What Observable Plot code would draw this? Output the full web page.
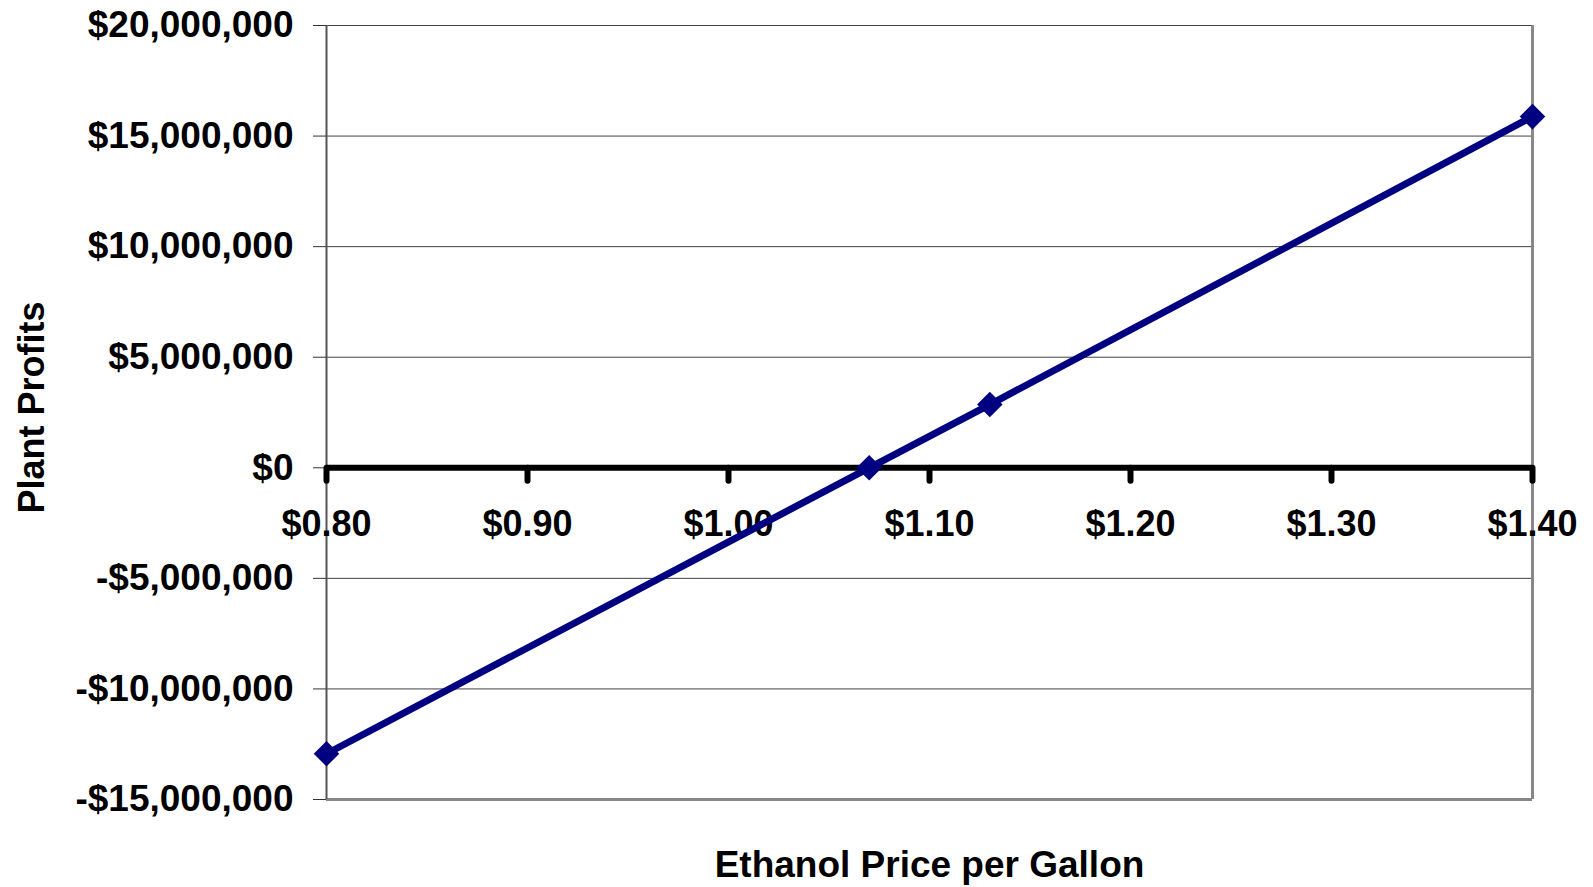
<!DOCTYPE html>
<html>
<head>
<meta charset="utf-8">
<script src="https://cdn.jsdelivr.net/npm/d3@7"></script>
<script src="https://cdn.jsdelivr.net/npm/@observablehq/plot@0.6"></script>
<style>
  html, body { margin: 0; padding: 0; background: #fff; }
  #chart svg { display: block; }
</style>
</head>
<body>
<div id="chart"></div>
<script>
// Data
const prices = [0.80, 1.07, 1.13, 1.40];
const profits = [-12930000, 0, 2860000, 15880000];
const yTicks = [-15000000, -10000000, -5000000, 0, 5000000, 10000000, 15000000, 20000000];
const xTicks = [0.80, 0.90, 1.00, 1.10, 1.20, 1.30, 1.40];
const xTitle = "Ethanol Price per Gallon";
const yTitle = "Plant Profits";

const data = prices.map((p, i) => ({price: p, profit: profits[i]}));

const fmtY = v => (v < 0 ? "-$" : "$") + d3.format(",")(Math.abs(v));
const fmtX = v => "$" + v.toFixed(2);
const FONT = "'Liberation Sans', Arial, sans-serif";
const FS = 36;

const tickShape = {
  draw(context, l) {
    context.moveTo(0, 0);
    context.lineTo(0, -l);
  }
};

const chart = Plot.plot({
  width: 1593,
  height: 887,
  marginLeft: 326,
  marginRight: 61,
  marginTop: 25,
  marginBottom: 88,
  style: {fontFamily: FONT, background: "#fff"},
  x: {domain: [0.8, 1.4], axis: null},
  y: {domain: [-15000000, 20000000]},
  marks: [
    // horizontal grid lines
    Plot.ruleY(yTicks, {stroke: "#404040", strokeWidth: 1}),
    // plot area border (bottom, right, left)
    Plot.ruleY([yTicks[0]], {stroke: "#888", strokeWidth: 3}),
    Plot.ruleX([xTicks[xTicks.length - 1]], {stroke: "#888", strokeWidth: 3}),
    Plot.ruleX([xTicks[0]], {stroke: "#555", strokeWidth: 2}),
    // y axis
    Plot.axisY({
      ticks: yTicks,
      tickFormat: fmtY,
      tickSize: 13,
      tickPadding: 20,
      stroke: "#333",
      fontSize: 37,
      fontWeight: "bold",
      fill: "#000",
      label: null
    }),
    // zero line acting as the x axis
    Plot.ruleY([0], {stroke: "#000", strokeWidth: 6}),
    Plot.vector(xTicks, {
      x: d => d, y: () => 0,
      length: 13, rotate: 180, anchor: "start",
      shape: tickShape,
      stroke: "#000", strokeWidth: 6, strokeLinecap: "round"
    }),
    Plot.text(xTicks, {
      x: d => d, y: () => 0, text: fmtX,
      dy: 57, fontSize: FS, fontWeight: "bold", fill: "#000", textAnchor: "middle"
    }),
    // data line + markers
    Plot.line(data, {x: "price", y: "profit", stroke: "#000080", strokeWidth: 7}),
    Plot.dot(data, {x: "price", y: "profit", symbol: "diamond2", r: 11.5, fill: "#000080", stroke: "none"}),
    // titles
    Plot.text([xTitle], {
      frameAnchor: "bottom", dy: 77, text: d => d, textAnchor: "middle",
      fontSize: 37, fontWeight: "bold", fill: "#000"
    }),
    Plot.text([yTitle], {
      frameAnchor: "left", dx: -294, dy: -5, rotate: -90, text: d => d, textAnchor: "middle",
      fontSize: FS, fontWeight: "bold", fill: "#000"
    })
  ]
});

document.getElementById("chart").appendChild(chart);
</script>
</body>
</html>
